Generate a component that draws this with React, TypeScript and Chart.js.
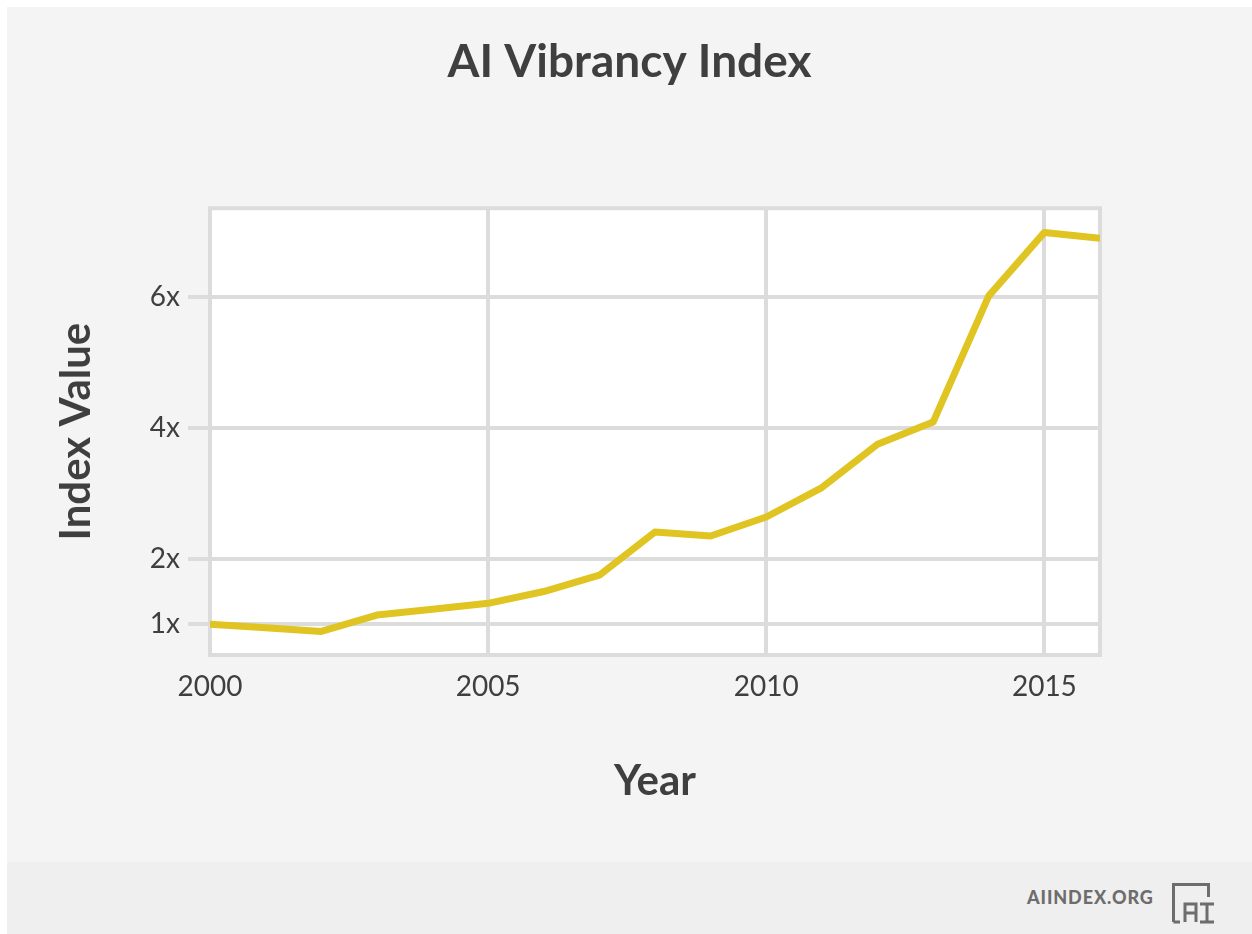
import React, { useEffect, useRef } from "react";
import { Chart, registerables } from "chart.js";

Chart.register(...registerables);

const years = [2000, 2001, 2002, 2003, 2004, 2005, 2006, 2007, 2008, 2009, 2010, 2011, 2012, 2013, 2014, 2015, 2016];
const indexValues = [1.0, 0.945, 0.89, 1.14, 1.23, 1.32, 1.5, 1.75, 2.41, 2.35, 2.64, 3.09, 3.75, 4.09, 6.02, 6.99, 6.9];
const yTickValues = [1, 2, 4, 6];
const xTickValues = [2000, 2005, 2010, 2015];

const FONT = "Lato, 'Open Sans', sans-serif";
const TEXT = "#3f3f3f";
const GRID = "#dcdcdc";

const framePlugin = {
  id: "frame",
  beforeDraw(chart: any) {
    const { ctx, chartArea } = chart;
    ctx.save();
    ctx.fillStyle = "#ffffff";
    ctx.fillRect(chartArea.left, chartArea.top, chartArea.right - chartArea.left, chartArea.bottom - chartArea.top);
    ctx.restore();
  },
  beforeDatasetsDraw(chart: any) {
    const { ctx, chartArea } = chart;
    ctx.save();
    ctx.strokeStyle = GRID;
    ctx.lineWidth = 4;
    ctx.strokeRect(chartArea.left, chartArea.top, chartArea.right - chartArea.left, chartArea.bottom - chartArea.top);
    ctx.restore();
  },
};

function AIChart() {
  const ref = useRef<HTMLCanvasElement | null>(null);
  useEffect(() => {
    if (!ref.current) return;
    const chart = new Chart(ref.current, {
      type: "line",
      data: {
        datasets: [
          {
            label: "AI Vibrancy Index",
            data: years.map((y, i) => ({ x: y, y: indexValues[i] })),
            borderColor: "#e0c421",
            borderWidth: 7,
            pointRadius: 0,
            tension: 0,
            borderJoinStyle: "round",
          },
        ],
      },
      plugins: [framePlugin],
      options: {
        animation: false,
        responsive: false,
        maintainAspectRatio: false,
        layout: { padding: 0 },
        plugins: {
          legend: { display: false },
          tooltip: { enabled: false },
          title: {
            display: true,
            text: "AI Vibrancy Index",
            color: TEXT,
            font: { family: FONT, size: 46, weight: "bold" },
            padding: { top: 28, bottom: 118 },
          },
        },
        scales: {
          x: {
            type: "linear",
            min: 2000,
            max: 2016,
            afterBuildTicks: (scale: any) => {
              scale.ticks = xTickValues.map((v) => ({ value: v }));
            },
            afterFit: (scale: any) => {
              scale.height = 207;
            },
            ticks: {
              color: TEXT,
              font: { family: FONT, size: 28 },
              padding: 15,
              maxRotation: 0,
              callback: (v: any) => String(v),
            },
            grid: { color: GRID, lineWidth: 4, drawTicks: false },
            border: { display: false },
            title: {
              display: true,
              text: "Year",
              color: TEXT,
              font: { family: FONT, size: 42, weight: "bold" },
              padding: { top: 0, bottom: 55 },
            },
          },
          y: {
            type: "linear",
            min: 0.53,
            max: 7.36,
            afterBuildTicks: (scale: any) => {
              scale.ticks = yTickValues.map((v) => ({ value: v }));
            },
            afterFit: (scale: any) => {
              scale.width = 203;
            },
            ticks: {
              color: TEXT,
              font: { family: FONT, size: 28 },
              padding: 8,
              callback: (v: any) => v + "x",
            },
            grid: { color: GRID, lineWidth: 4, tickLength: 22 },
            border: { display: false },
            title: {
              display: true,
              text: "Index Value",
              color: TEXT,
              font: { family: FONT, size: 42, weight: "bold" },
              padding: { top: 44, bottom: 0 },
            },
          },
          yRight: {
            type: "linear",
            position: "right",
            display: true,
            min: 0.53,
            max: 7.36,
            afterFit: (scale: any) => {
              scale.width = 152;
            },
            ticks: { display: false },
            grid: { display: false },
            border: { display: false },
          },
        },
      },
    } as any);
    return () => chart.destroy();
  }, []);
  return <canvas ref={ref} width={1245} height={855} style={{ display: "block" }} />;
}

function Logo() {
  return (
    <svg width="46" height="42" viewBox="0 0 46 42" style={{ display: "block" }}>
      <g fill="none" stroke="#6d6d6d" strokeWidth="3">
        <path d="M2.5 40 V2.5 H37.5 V15" />
        <path d="M2.5 40 H9" />
        <path d="M14 40 V22 H25 V40 M14 31 H25" />
        <path d="M29 22 H43 M36 22 V40 M29 40 H43" />
      </g>
    </svg>
  );
}

export default function App() {
  return (
    <div
      style={{
        position: "fixed",
        left: 7,
        top: 7,
        width: 1245,
        height: 927,
        background: "#f4f4f4",
        overflow: "hidden",
      }}
    >
      <AIChart />
      <div
        style={{
          position: "absolute",
          left: 0,
          top: 855,
          width: 1245,
          height: 72,
          background: "#efefef",
        }}
      >
        <div
          style={{
            position: "absolute",
            left: 1020,
            top: 25,
            fontFamily: FONT,
            fontWeight: 900,
            fontSize: 18,
            letterSpacing: 0.9,
            color: "#6d6d6d",
            lineHeight: "20px",
          }}
        >
          AIINDEX.ORG
        </div>
        <div style={{ position: "absolute", left: 1164, top: 20 }}>
          <Logo />
        </div>
      </div>
    </div>
  );
}
